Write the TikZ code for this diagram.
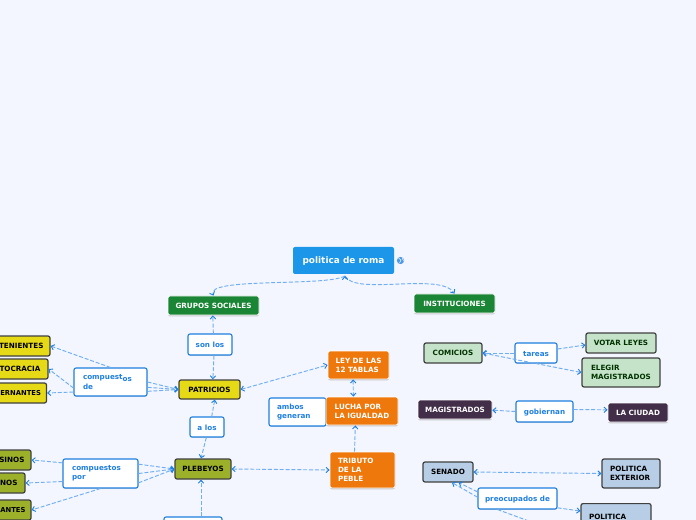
\documentclass[tikz,border=0pt]{standalone}
\usepackage{fontspec}
\setmainfont{DejaVu Sans}
\usetikzlibrary{arrows.meta,shadows}
\definecolor{paper}{HTML}{F3F6FF}
\definecolor{rootblue}{HTML}{1B96E8}
\definecolor{linkblue}{HTML}{1E7FE0}
\definecolor{dashblue}{HTML}{6FAEF2}
\definecolor{grupogreen}{HTML}{1B8536}
\definecolor{ordenorange}{HTML}{EE780C}
\definecolor{patyellow}{HTML}{E6DA17}
\definecolor{pleolive}{HTML}{9DB02A}
\definecolor{comgreen}{HTML}{C5E3C8}
\definecolor{magpurple}{HTML}{432E49}
\definecolor{senblue}{HTML}{B8CDE6}
\tikzset{
  sz/.style 2 args={minimum width=#1*.75pt,minimum height=#2*.75pt},
  lft/.style={text width=#1*.75pt,align=flush left},
  rgt/.style={text width=#1*.75pt,align=flush right},
  one/.style={text height=5pt,text depth=.4pt},
  box/.style={rectangle,rounded corners=1.5pt,inner sep=0pt,font=\bfseries\fontsize{5.4pt}{6.8pt}\selectfont},
  lightbox/.style={box,draw=white,line width=.6pt,text=white,drop shadow={shadow xshift=0pt,shadow yshift=-1pt,fill=black!35,opacity=.6}},
  darkbox/.style={box,draw=black!75,line width=.9pt,text=black},
  linkbox/.style={box,draw=linkblue,line width=.8pt,fill=white,text=linkblue,drop shadow={shadow xshift=0pt,shadow yshift=-.7pt,fill=black!30,opacity=.5}},
  conn/.style={dashblue,line width=.7pt,dash pattern=on 3pt off 1.4pt,-{Straight Barb[length=2.2pt,width=4pt,color=linkblue,line width=.7pt]}},
  both/.style={conn,{Straight Barb[length=2.2pt,width=4pt,color=linkblue,line width=.7pt]}-{Straight Barb[length=2.2pt,width=4pt,color=linkblue,line width=.7pt]}}
}
\begin{document}
\begin{tikzpicture}[x=.75pt,y=-.75pt]
  \useasboundingbox (0,0) rectangle (696,520);
  \clip (0,0) rectangle (696,520);
  \fill[paper] (0,0) rectangle (696,520);
  % top
  \node[box,fill=rootblue,text=white,sz={101}{27},text height=6pt,text depth=.8pt,font=\bfseries\fontsize{6.7pt}{9pt}\selectfont] (politica) at (343.5,260.5) {politica de roma};
  \node[lightbox,fill=grupogreen,sz={91}{19}] (grupos) at (213.5,305.5) {GRUPOS SOCIALES};
  \node[lightbox,fill=grupogreen,sz={81}{19}] (instituciones) at (454.5,303.5) {INSTITUCIONES};
  \coordinate (politicab) at (345,276);
  % icon
  \fill[linkblue!80] (400.5,260.5) circle (3.6);
  \draw[white,line width=.4pt] (398.5,258) -- (401,260) -- (399.5,263) (402,257.5) -- (403.5,261);
  % left side
  \node[darkbox,fill=patyellow,sz={61}{19}] (patricios) at (209.5,389.5) {PATRICIOS};
  \node[darkbox,fill=pleolive,sz={56}{20}] (plebeyos) at (203,469) {PLEBEYOS};
  \node[linkbox,one,sz={44}{21}] (sonlos) at (210,344.5) {son los};
  \node[linkbox,one,sz={34}{20}] (alos) at (207,427) {a los};
  \node[linkbox,sz={73}{28},lft=55] (compde) at (110.5,382) {compuest\raisebox{-1pt}{os}\\de};
  \node[linkbox,sz={75}{29},lft=57] (comppor) at (100.5,473.5) {compuestos\\por};
  \node[linkbox,sz={58}{24}] (plebeyosb) at (193,529) {};
  \node[darkbox,fill=patyellow,sz={90}{20},rgt=77] (tenientes) at (5,346) {TENIENTES};
  \node[darkbox,fill=patyellow,sz={90}{20},rgt=75] (tocracia) at (3,369) {TOCRACIA};
  \node[darkbox,fill=patyellow,sz={90}{20},rgt=79,font=\bfseries\fontsize{5.1pt}{6.8pt}\selectfont] (ernantes) at (1.5,393) {ERNANTES};
  \node[darkbox,fill=pleolive,sz={70}{20},rgt=57] (sinos) at (-4,460) {SINOS};
  \node[darkbox,fill=pleolive,sz={70}{20},rgt=55] (nos) at (-10,483) {NOS};
  \node[darkbox,fill=pleolive,sz={70}{20},rgt=59,font=\bfseries\fontsize{5.1pt}{6.8pt}\selectfont] (antes) at (-4,510) {ANTES};
  % middle
  \node[lightbox,fill=ordenorange,sz={61}{28},align=left] (ley) at (358.5,365) {LEY DE LAS\\12 TABLAS};
  \node[linkbox,sz={57}{28},lft=41] (ambos) at (297.5,412) {ambos\\generan};
  \node[lightbox,fill=ordenorange,sz={72}{28},align=left] (lucha) at (362,411) {LUCHA POR\\LA IGUALDAD};
  \node[lightbox,fill=ordenorange,sz={65}{36},lft=49] (tributo) at (362.5,470) {TRIBUTO\\DE LA\\PEBLE};
  % right side
  \node[darkbox,fill=comgreen,text=black!80!green,sz={58}{20}] (comicios) at (453,353) {COMICIOS};
  \node[linkbox,one,sz={42}{20}] (tareas) at (536,353) {tareas};
  \node[darkbox,fill=comgreen,text=black!80!green,sz={70}{20}] (votar) at (621,343) {VOTAR LEYES};
  \node[darkbox,fill=comgreen,text=black!80!green,sz={78}{29},lft=60] (elegir) at (621,372.5) {ELEGIR\\MAGISTRADOS};
  \node[lightbox,fill=magpurple,sz={74}{19}] (magistrados) at (455,409.5) {MAGISTRADOS};
  \node[linkbox,one,sz={57}{21}] (gobiernan) at (544.5,411.5) {gobiernan};
  \node[lightbox,fill=magpurple,sz={60}{19}] (ciudad) at (638,412.5) {LA CIUDAD};
  \node[darkbox,fill=senblue,sz={50}{20}] (senado) at (448,472) {SENADO};
  \node[darkbox,fill=senblue,sz={58}{29},lft=42] (exterior) at (631,473.5) {POLITICA\\EXTERIOR};
  \node[darkbox,fill=senblue,sz={70}{30},lft=54,anchor=north] (interior) at (616,503) {\rule{0pt}{7.5pt}POLITICA\\\mbox{}};
  \node[linkbox,one,sz={79}{21}] (preocupados) at (517.5,498.5) {preocupados de};
  \coordinate (libre) at (545,527);
  % connectors
  \draw[conn] (politicab) .. controls (325,287) and (205,277) .. (grupos.north);
  \draw[conn] (politicab) .. controls (355,296) and (440,272) .. (instituciones.north);
  \draw[-{Straight Barb[length=2.2pt,width=4pt,color=linkblue,line width=.7pt]},dashblue,line width=.7pt] (345,279) -- (politicab);
  \draw[conn] ([xshift=2.5pt]sonlos.north) -- ([xshift=-.5pt]grupos.south);
  \draw[conn] ([xshift=3pt]sonlos.south) -- ([xshift=2.5pt]patricios.north);
  \draw[both] (patricios.east) -- (ley.west);
  \draw[both] ([xshift=-4pt]ley.south) -- ([xshift=-6.5pt]lucha.north);
  \draw[conn] ([xshift=-6pt]tributo.north) -- ([xshift=-5pt]lucha.south);
  \draw[both] (plebeyos.east) -- (tributo.west);
  \draw[conn] ([xshift=3.5pt]alos.north) -- ([xshift=4pt]patricios.south);
  \draw[conn] ([xshift=-.5pt]alos.south) -- ([xshift=-1.5pt]plebeyos.north);
  \draw[conn] ([xshift=-1.5pt]plebeyos.south |- plebeyosb.north) -- ([xshift=-1.5pt]plebeyos.south);
  \draw[conn] (compde.north) -- (tenientes.east);
  \draw[conn] ([yshift=-4.5pt]compde.west) -- (tocracia.east);
  \draw[conn] ([yshift=-7.5pt]compde.west) -- (ernantes.east);
  \draw[conn] ([yshift=0pt]compde.east) -- (patricios.west);
  \draw[conn] ([yshift=-4pt]compde.east) -- (patricios.west);
  \draw[conn] ([yshift=-7pt]compde.east) -- (patricios.west);
  \draw[conn] ([yshift=8pt]comppor.west) -- (sinos.east);
  \draw[conn] ([yshift=-6pt]comppor.west) -- (nos.east);
  \draw[conn] (comppor.south) -- (antes.east);
  \draw[conn] ([yshift=7pt]comppor.east) -- (plebeyos.west);
  \draw[conn] ([yshift=0pt]comppor.east) -- (plebeyos.west);
  \draw[conn] ([yshift=-7pt]comppor.east) -- (plebeyos.west);
  \draw[conn] (tareas.west) -- (comicios.east);
  \draw[conn] ([yshift=3pt]tareas.east) -- ([yshift=-1.5pt]votar.west);
  \draw[both] (comicios.east) -- (elegir.west);
  \draw[conn] (gobiernan.west) -- ([yshift=-.5pt]magistrados.east);
  \draw[conn] ([yshift=1.5pt]gobiernan.east) -- ([yshift=2pt]ciudad.west);
  \draw[both] (senado.east) -- (exterior.west);
  \draw[conn] ([yshift=5pt]preocupados.west) -- ([xshift=8pt]senado.south);
  \draw[conn] ([yshift=1pt]preocupados.west) -- ([xshift=3pt]senado.south);
  \draw[conn] ([xshift=-15pt]preocupados.south) -- (libre);
  \draw[conn] ([yshift=-7pt]preocupados.east) -- (interior.west |- 0,511);
\end{tikzpicture}
\end{document}
